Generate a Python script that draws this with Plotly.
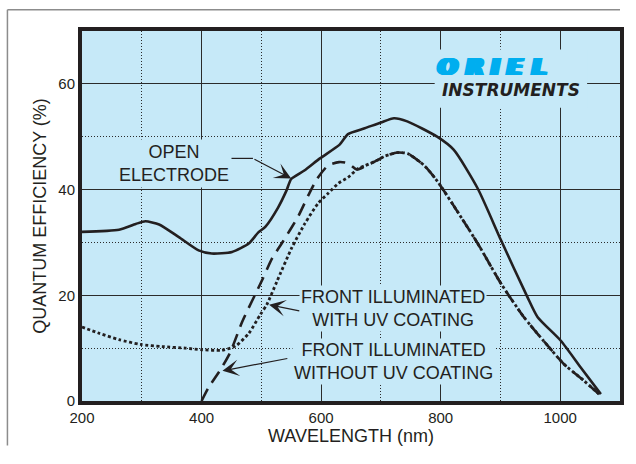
import plotly.graph_objects as go

# ---------------- data ----------------
open_wl = [200, 262, 290, 306, 329, 362, 395, 417, 451, 479, 495, 507, 528, 542, 550,
           572, 598, 631, 645, 673, 700, 722, 744, 794, 822, 862, 901, 945, 962, 1001, 1034, 1068]
open_qe = [32.0, 32.4, 33.5, 34.0, 33.4, 31.0, 28.5, 27.9, 28.2, 29.8, 31.9, 33.0, 36.6, 39.8, 42.0,
           43.6, 45.9, 48.5, 50.5, 51.6, 52.7, 53.5, 52.9, 50.0, 47.5, 40.2, 30.4, 19.7, 15.9, 11.4, 6.4, 1.3]

uv_wl = [200, 229, 262, 298, 334, 373, 401, 434, 457, 479, 498, 509, 526, 551, 573, 595, 612,
         629, 645, 662, 673, 695, 706, 728, 745, 773, 795, 830, 862, 901, 939, 972, 1006, 1039, 1065]
uv_qe = [14.0, 12.8, 11.6, 10.7, 10.3, 10.0, 9.7, 9.6, 10.4, 12.8, 16.3, 18.2, 22.6, 29.0, 33.6, 37.4, 39.3,
         41.2, 42.3, 44.0, 44.5, 45.6, 46.3, 47.0, 46.8, 44.5, 41.5, 35.5, 29.8, 22.2, 15.9, 11.4, 7.0, 3.9, 1.3]

nouv_wl = [400, 412, 432, 448, 468, 501, 518, 534, 562, 579, 593, 612, 630, 645, 660, 675, 695,
           706, 728, 745, 773, 795, 830, 862, 901, 939, 972, 1006, 1039, 1065]
nouv_qe = [0.0, 2.6, 6.0, 9.2, 15.0, 22.8, 27.0, 29.8, 35.0, 39.0, 42.0, 44.6, 45.2, 45.0, 43.8, 44.5, 45.6,
           46.3, 47.0, 46.8, 44.5, 41.5, 35.5, 29.8, 22.2, 15.9, 11.4, 7.0, 3.9, 1.3]

x_ticks = [200, 400, 600, 800, 1000]
y_ticks = [0, 20, 40, 60]

INK = "#231F20"
BG = "#C6E9F8"
LOGO_BLUE = "#00AEEF"
FONT = "Liberation Sans, Arial, sans-serif"

fig = go.Figure()
fig.add_trace(go.Scatter(x=open_wl, y=open_qe, mode="lines",
                         line=dict(color=INK, width=2.6, shape="spline", smoothing=0.6),
                         name="Open electrode"))
fig.add_trace(go.Scatter(x=uv_wl, y=uv_qe, mode="lines",
                         line=dict(color=INK, width=2.8, dash="3px,2.5px", shape="spline", smoothing=0.6),
                         name="Front illuminated with UV coating"))
fig.add_trace(go.Scatter(x=nouv_wl, y=nouv_qe, mode="lines",
                         line=dict(color=INK, width=2.6, dash="13px,8px", shape="spline", smoothing=0.6),
                         name="Front illuminated without UV coating"))

axis_common = dict(showline=True, linecolor=INK, linewidth=4, mirror=True, ticks="",
                   zeroline=False, tickfont=dict(family=FONT, size=15, color=INK),
                   gridcolor="#2b2b2b", gridwidth=1.1)

fig.update_xaxes(range=[200, 1100], tickmode="array", tickvals=x_ticks,
                 title=dict(text="WAVELENGTH (nm)", font=dict(family=FONT, size=18, color=INK), standoff=4),
                 minor=dict(dtick=100, tick0=200, showgrid=True, gridcolor="#2b2b2b", gridwidth=1,
                            griddash="1px,2px"),
                 **axis_common)
fig.update_yaxes(range=[0, 70], tickmode="array", tickvals=y_ticks,
                 title=dict(text="QUANTUM EFFICIENCY (%)", font=dict(family=FONT, size=18, color=INK), standoff=8),
                 minor=dict(dtick=10, tick0=0, showgrid=True, gridcolor="#2b2b2b", gridwidth=1,
                            griddash="1px,2px"),
                 **axis_common)

# outer grey frame (left and top edges only)
fig.add_shape(type="line", xref="paper", yref="paper", x0=-0.1386, x1=-0.1386, y0=-0.12, y1=1.0576,
              line=dict(color="#8c8c8c", width=1.5), layer="below")
fig.add_shape(type="line", xref="paper", yref="paper", x0=-0.1386, x1=1.0, y0=1.0576, y1=1.0576,
              line=dict(color="#8c8c8c", width=1.5), layer="below")

# logo background
fig.add_shape(type="rect", xref="x", yref="y", x0=790, x1=1045, y0=55.5, y1=66.5,
              line=dict(width=0), fillcolor=BG, layer="between")

# open electrode leader line
fig.add_shape(type="line", xref="x", yref="y", x0=438, x1=486, y0=45.9, y1=45.9,
              line=dict(color=INK, width=1.2))

ann = []
text_font = dict(family=FONT, size=18, color=INK)
ann.append(dict(x=354, y=45.0, xref="x", yref="y", text="OPEN<br>ELECTRODE", showarrow=False,
                font=text_font, bgcolor=BG, borderpad=2, xanchor="center", yanchor="middle"))
ann.append(dict(x=721, y=17.5, xref="x", yref="y", text="FRONT ILLUMINATED<br>WITH UV COATING",
                showarrow=False, font=text_font, bgcolor=BG, borderpad=1, xanchor="center", yanchor="middle"))
ann.append(dict(x=721, y=7.4, xref="x", yref="y", text="FRONT ILLUMINATED<br>WITHOUT UV COATING",
                showarrow=False, font=text_font, bgcolor=BG, borderpad=1, xanchor="center", yanchor="middle"))

arrow_common = dict(xref="x", yref="y", axref="x", ayref="y", text="", showarrow=True,
                    arrowhead=3, arrowsize=2.3, arrowwidth=1.2, arrowcolor=INK)
ann.append(dict(x=550, y=42.1, ax=486, ay=45.9, **arrow_common))
ann.append(dict(x=513, y=18.2, ax=566, ay=17.0, **arrow_common))
ann.append(dict(x=435, y=5.7, ax=546, ay=8.1, **arrow_common))

# logo (letters widened with a horizontal text shadow)
logo_letters = ["O", "R", "I", "E", "L"]
logo_x = [812, 857, 891, 924, 965]
wide = ", ".join(f"{d}px 0 0 {LOGO_BLUE}" for d in (-2.5, -1.5, -0.7, 0.7, 1.5, 2.5))
for ch, lx in zip(logo_letters, logo_x):
    ann.append(dict(x=lx, y=63.2, xref="x", yref="y", text=f"<b><i>{ch}</i></b>", showarrow=False,
                    font=dict(family="DejaVu Sans", size=23, color=LOGO_BLUE, shadow=wide),
                    xanchor="center", yanchor="middle"))
ann.append(dict(x=917, y=58.8, xref="x", yref="y", text="<b><i>INSTRUMENTS</i></b>", showarrow=False,
                font=dict(family="DejaVu Sans", size=17, color=INK), xanchor="center", yanchor="middle"))

fig.update_layout(width=636, height=464, margin=dict(l=82, r=13, t=31, b=63),
                  paper_bgcolor="white", plot_bgcolor=BG, showlegend=False,
                  annotations=ann, font=dict(family=FONT, color=INK))

fig.write_html("out.html", config={"displayModeBar": False},
               post_script="document.body.style.margin='0';document.body.style.overflow='hidden';"
                           "document.documentElement.style.overflow='hidden';")
